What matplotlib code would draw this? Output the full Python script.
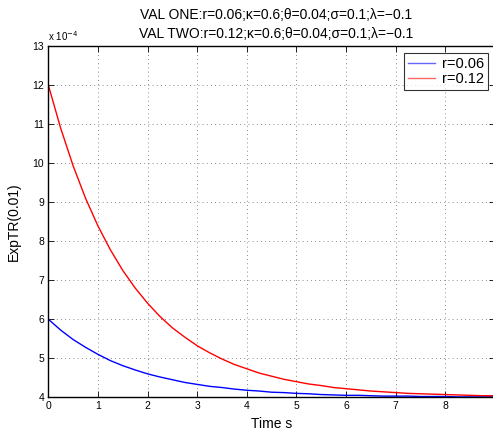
import numpy as np
import matplotlib
matplotlib.use("Agg")
import matplotlib.pyplot as plt

plt.rcParams["font.family"] = ["Liberation Sans", "DejaVu Sans"]

# time axis (s), step 0.25
time_s = np.arange(0, 9.01, 0.25)

# ExpTR(0.01) in units of 1e-4
val_one = [6.00, 5.72, 5.48, 5.28, 5.10, 4.94, 4.81, 4.70, 4.60, 4.52,
           4.45, 4.38, 4.33, 4.28, 4.25, 4.21, 4.18, 4.16, 4.13, 4.12,
           4.10, 4.09, 4.07, 4.06, 4.05, 4.05, 4.04, 4.03, 4.03, 4.03,
           4.02, 4.02, 4.02, 4.01, 4.01, 4.01, 4.01]
val_two = [12.00, 10.89, 9.93, 9.10, 8.39, 7.78, 7.25, 6.80, 6.41, 6.07,
           5.78, 5.54, 5.32, 5.14, 4.98, 4.84, 4.73, 4.62, 4.54, 4.46,
           4.40, 4.34, 4.30, 4.25, 4.22, 4.19, 4.16, 4.14, 4.12, 4.10,
           4.09, 4.08, 4.07, 4.06, 4.05, 4.04, 4.04]

labels = ["r=0.06", "r=0.12"]
x_ticks = list(range(0, 10))
y_ticks = list(range(4, 14))

fig = plt.figure(figsize=(4.93, 4.36), dpi=100)
ax = fig.add_axes([0.098, 0.0888, 0.906, 0.8057])

ax.plot(time_s, val_one, color="blue", lw=1.0, label=labels[0])
ax.plot(time_s, val_two, color="red", lw=1.0, label=labels[1])

ax.set_xlim(0, 9)
ax.set_ylim(4, 13)
ax.set_xticks(x_ticks)
ax.set_yticks(y_ticks)
ax.tick_params(direction="in", top=True, right=True, labelsize=7.5,
               length=4, width=0.6, pad=3)
ax.grid(True, linestyle=(0, (1, 4)), color="0.4", lw=0.6)
for s in ax.spines.values():
    s.set_linewidth(1.0)

ax.set_xlabel("Time s", fontsize=10, labelpad=4)
ax.set_ylabel("ExpTR(0.01)", fontsize=10, labelpad=8)
ax.text(0.0, 1.008, "x 10$^{-4}$", transform=ax.transAxes, fontsize=7,
        ha="left", va="bottom")

ax.set_title("VAL ONE:r=0.06;κ=0.6;θ=0.04;σ=0.1;λ=−0.1\n"
             "VAL TWO:r=0.12;κ=0.6;θ=0.04;σ=0.1;λ=−0.1",
             fontsize=10, linespacing=1.4, pad=6, x=0.51)

leg = ax.legend(loc="upper right", fontsize=10.5, frameon=True, fancybox=False,
                edgecolor="black", handlelength=1.8, handletextpad=0.5,
                borderpad=0.3, labelspacing=0.05, borderaxespad=0.45)
leg.get_frame().set_linewidth(0.8)
for h in leg.get_lines():
    h.set_alpha(0.6)

fig.savefig("out.png", dpi=100)
